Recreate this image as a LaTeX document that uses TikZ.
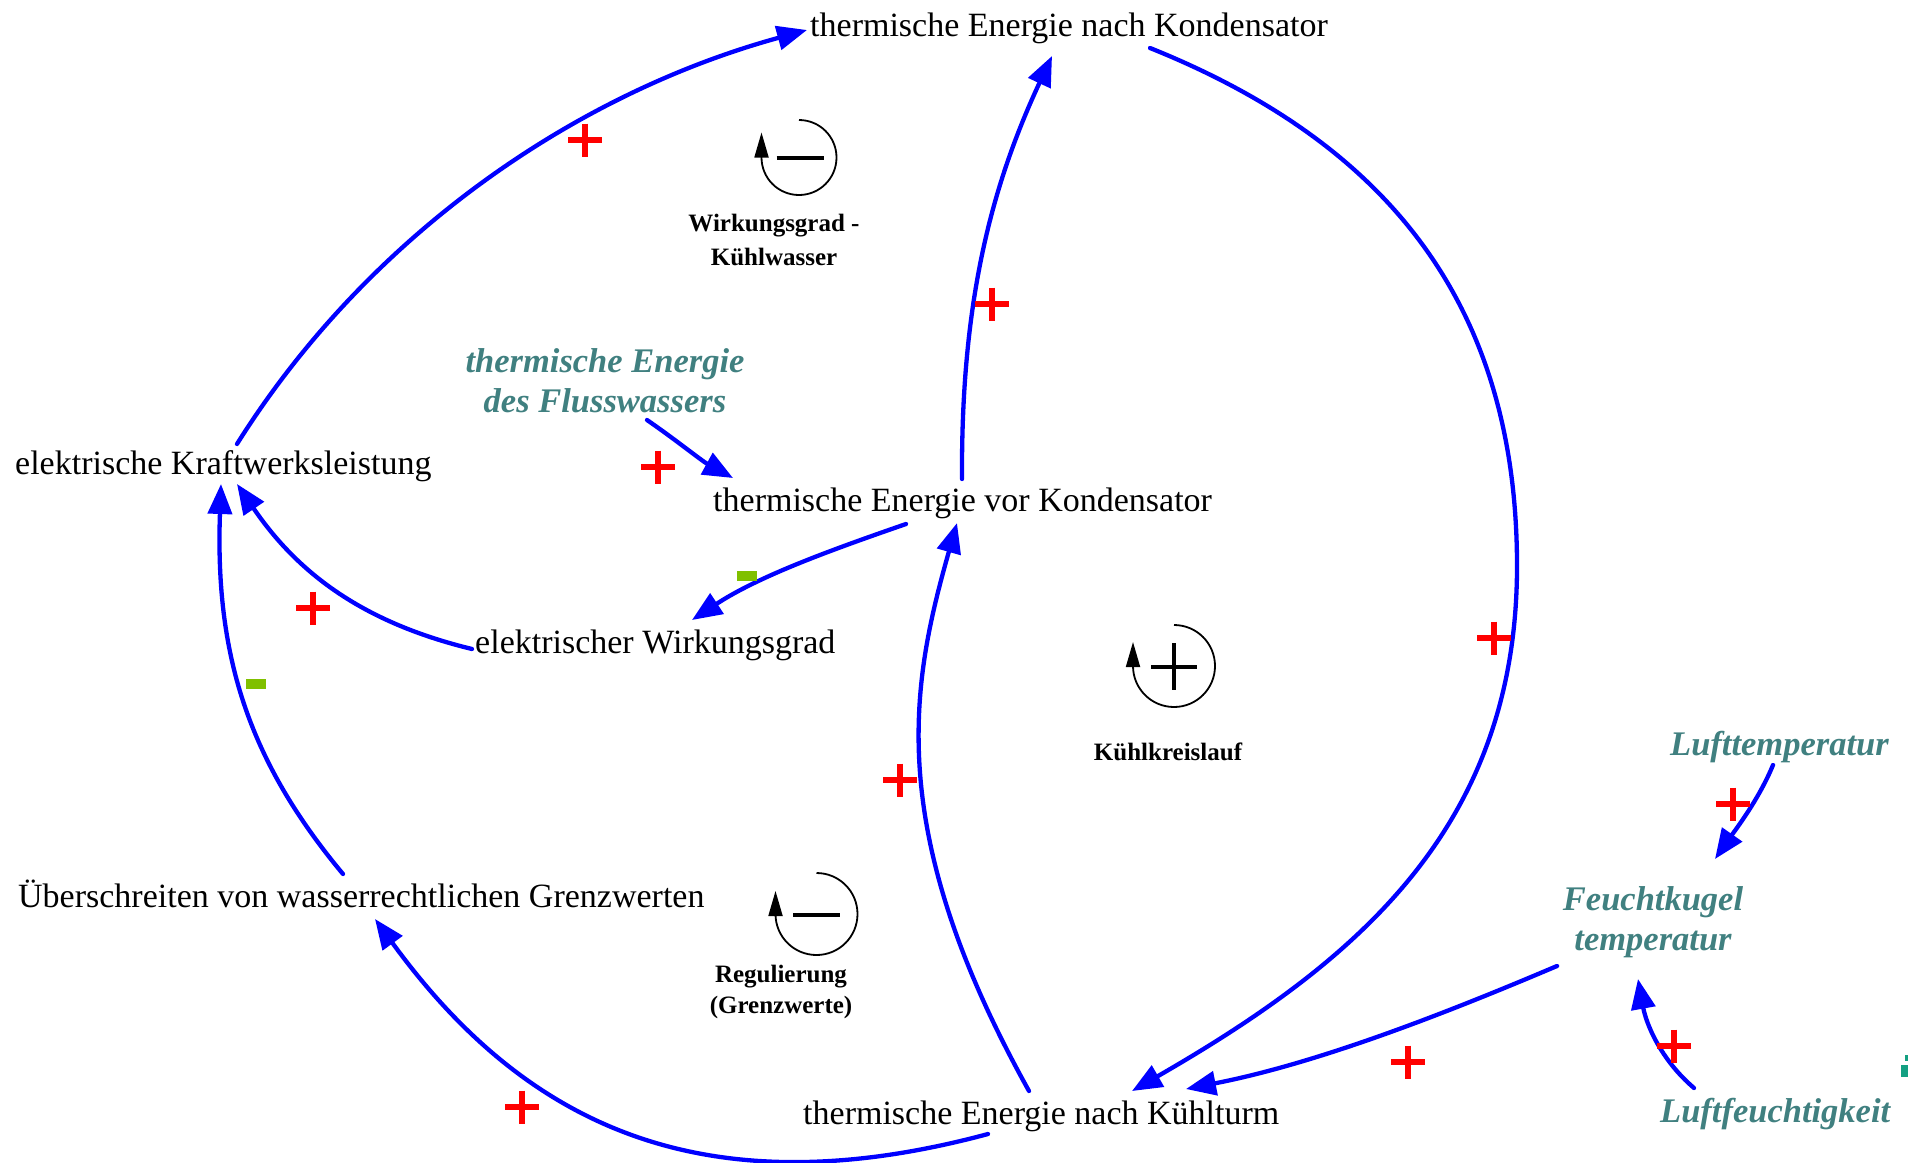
\documentclass[tikz,border=0pt]{standalone}
\usepackage{fontspec}
\setmainfont{Liberation Serif}
\usetikzlibrary{arrows.meta,calc}
\definecolor{tealc}{RGB}{64,128,128}
\definecolor{plusred}{RGB}{255,0,0}
\definecolor{minusgreen}{RGB}{128,192,0}
\definecolor{edgeteal}{RGB}{20,160,130}
\definecolor{linkblue}{RGB}{0,0,255}
\begin{document}
\begin{tikzpicture}[x=1pt,y=-1pt,
 mainvar/.style={font=\fontsize{34}{40}\selectfont, inner sep=0pt, anchor=base west},
 extvar/.style={font=\fontsize{34.5}{40}\selectfont\bfseries\itshape, text=tealc, inner sep=0pt, align=center},
 looplabel/.style={font=\fontsize{25}{33}\selectfont\bfseries, inner sep=0pt, align=center},
 link/.style={draw=linkblue, line width=4.3pt, line cap=round, -{Triangle[length=30pt,width=24pt]}},
 loopsym/.style={draw=black, line width=1.8pt, -{Triangle[length=25pt,width=14pt]}},
 loopsign/.style={draw=black, line width=3.3pt},
 plusmark/.pic={\draw[plusred, line width=5.5pt] (-17,0) -- (17,0) (0,-16.5) -- (0,16.5);},
 minusmark/.pic={\fill[minusgreen] (-10,-5) rectangle (10,5);}
]
\useasboundingbox (0,0) rectangle (1908,1162);
\fill[white] (0,0) rectangle (1908,1162);

% variables
\node[mainvar] (TEnK) at (810,36) {thermische Energie nach Kondensator};
\node[mainvar] (TEvK) at (713,511) {thermische Energie vor Kondensator};
\node[mainvar] (eKL) at (15,474) {elektrische Kraftwerksleistung};
\node[mainvar] (eW) at (475,653) {elektrischer Wirkungsgrad};
\node[mainvar] (UeW) at (18,907) {Überschreiten von wasserrechtlichen Grenzwerten};
\node[mainvar] (TEnKT) at (803,1124) {thermische Energie nach Kühlturm};
\node[extvar] (fluss) at (605,381) {thermische Energie\\des Flusswassers};
\node[extvar, anchor=base west] (luftT) at (1670,755) {Lufttemperatur};
\node[extvar] (feucht) at (1653,922) {Feuchtkugel\\temperatur};
\node[extvar, anchor=base west] (luftF) at (1660,1122) {Luftfeuchtigkeit};

% loop labels
\node[looplabel, font=\fontsize{25}{34}\selectfont\bfseries] (wkLbl) at (774,240) {Wirkungsgrad -\\Kühlwasser};
\node[looplabel, anchor=base] (kkLbl) at (1168,760) {Kühlkreislauf};
\node[looplabel, font=\fontsize{25}{31}\selectfont\bfseries] (rgLbl) at (781,992) {Regulierung\\(Grenzwerte)};

% loop symbols
\draw[loopsym] (799,120) arc[start angle=-90, end angle=180, radius=37.5] -- ++(0,-25);
\draw[loopsign] (776.5,158) -- (823.5,158);
\draw[loopsym] (1174,625) arc[start angle=-90, end angle=180, radius=41] -- ++(0,-24);
\draw[loopsign] (1151,667) -- (1197,667) (1174,643) -- (1174,690);
\draw[loopsym] (816.5,873) arc[start angle=-90, end angle=180, radius=41] -- ++(0,-23);
\draw[loopsign] (793,915) -- (840,915);

% connectors
\draw[link] ([shift={(222,-30)}]eKL.base west) .. controls (365,240) and (570,95) .. ([shift={(-3,-6)}]TEnK.base west);
\draw[link] ([shift={(249,-32)}]TEvK.base west) .. controls (961,308) and (989,191) .. ([shift={(242,20)}]TEnK.base west);
\draw[link] ([shift={(340,12)}]TEnK.base west) .. controls (1389,144) and (1517,306) .. (1517,566) .. controls (1517,826) and (1358,961) .. ([shift={(329,-33)}]TEnKT.base west);
\draw[link] ([shift={(193,13)}]TEvK.base west) .. controls (831,550) and (759,576) .. ([shift={(217,-33)}]eW.base west);
\draw[link] ([shift={(226,-33)}]TEnKT.base west) .. controls (883,829) and (911,685) .. ([shift={(244,12)}]TEvK.base west);
\draw[link] ([shift={(185,10)}]TEnKT.base west) .. controls (698,1212) and (522,1121) .. ([shift={(357,12)}]UeW.base west);
\draw[link] ([shift={(325,-33)}]UeW.base west) .. controls (247,759) and (215,653) .. ([shift={(206,10)}]eKL.base west);
\draw[link] ([shift={(-3,-4)}]eW.base west) .. controls (365,623) and (299,575) .. ([shift={(222,10)}]eKL.base west);
\draw[link] ([shift={(42,39)}]fluss.center) .. controls (676,440) and (702,461) .. ([shift={(20,-33)}]TEvK.base west);
\draw[link] ([shift={(103,10)}]luftT.base west) .. controls (1759,799) and (1736,829) .. ([shift={(62,-63)}]feucht.center);
\draw[link] ([shift={(34,-34)}]luftF.base west) .. controls (1660,1059) and (1646,1023) .. ([shift={(-15,57)}]feucht.center);
\draw[link] ([shift={(-96,44)}]feucht.center) .. controls (1437,1017) and (1314,1064) .. ([shift={(383,-35)}]TEnKT.base west);

% polarity marks
\pic at (585,140) {plusmark};
\pic at (992,304) {plusmark};
\pic at (658,467) {plusmark};
\pic at (313,608) {plusmark};
\pic at (1494,638) {plusmark};
\pic at (900,780) {plusmark};
\pic at (1733,804) {plusmark};
\pic at (1674,1046) {plusmark};
\pic at (1408,1062) {plusmark};
\pic at (522,1107) {plusmark};
\pic at (256,684) {minusmark};
\pic at (747,576) {minusmark};

% clipped mark at the right edge
\fill[edgeteal] (1905,1055) rectangle (1908,1061);
\fill[edgeteal] (1901,1065) rectangle (1908,1077);
\end{tikzpicture}
\end{document}
